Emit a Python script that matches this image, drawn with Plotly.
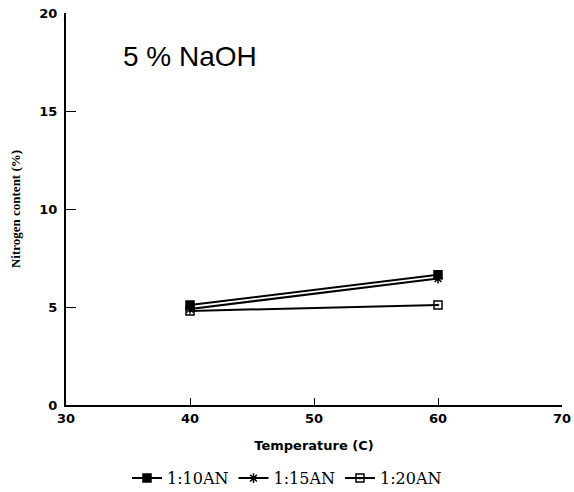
import plotly.graph_objects as go

temperature = [40, 60]
series_names = ["1:10AN", "1:15AN", "1:20AN"]
n_10 = [5.1, 6.65]
n_15 = [4.9, 6.45]
n_20 = [4.8, 5.1]
x_ticks = [30, 40, 50, 60, 70]
y_ticks = [0, 5, 10, 15, 20]

symbols = ["square", "asterisk-open", "square-open-dot"]
values = [n_10, n_15, n_20]

fig = go.Figure()
for name, vals, sym in zip(series_names, values, symbols):
    fig.add_trace(go.Scatter(
        x=temperature, y=vals, name=name, mode="lines+markers",
        line=dict(color="black", width=2),
        marker=dict(symbol=sym, size=8, color="black",
                    line=dict(color="black", width=1.5)),
    ))

axis_common = dict(
    tickwidth=1, tickcolor="black", showline=True, linecolor="black",
    linewidth=2, showgrid=False, zeroline=False, automargin=False,
    tickfont=dict(family="DejaVu Sans", size=13, color="black", weight="bold"),
)

fig.update_layout(
    width=574, height=492,
    margin=dict(l=66, r=12, t=13, b=87),
    paper_bgcolor="white", plot_bgcolor="white",
    showlegend=True,
    legend=dict(orientation="h", xref="container", yref="container",
                x=0.5, xanchor="center", y=0.028, yanchor="middle",
                font=dict(family="DejaVu Serif", size=16, color="black"),
                itemwidth=30, tracegroupgap=0),
    xaxis=dict(range=[30, 70], tickvals=x_ticks, ticks="inside", ticklen=7,
               title=dict(text="Temperature (C)", standoff=16,
                          font=dict(family="DejaVu Sans", size=13, color="black",
                                    weight="bold")),
               **axis_common),
    yaxis=dict(range=[0, 20], tickvals=y_ticks, ticks="inside", ticklen=10,
               ticklabelstandoff=4,
               title=dict(text="Nitrogen content (%)", standoff=16,
                          font=dict(family="Liberation Serif", size=13, color="black",
                                    weight="bold")),
               **axis_common),
    annotations=[dict(text="5 % NaOH", x=0.11, y=0.89, xref="paper", yref="paper",
                      xanchor="left", yanchor="middle", showarrow=False,
                      font=dict(family="Liberation Sans", size=28, color="black"))],
)

fig.write_html("out.html")
